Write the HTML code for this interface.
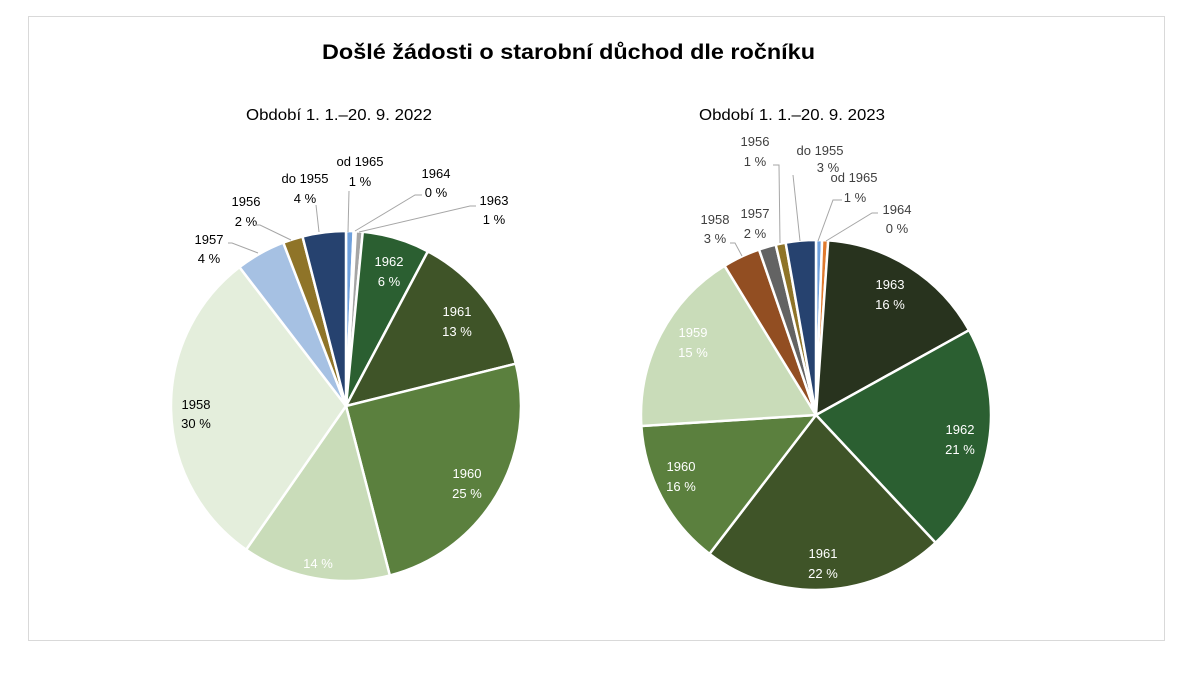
<!DOCTYPE html>
<html><head><meta charset="utf-8"><style>
body{margin:0;background:#fff;width:1190px;height:668px;overflow:hidden;font-family:"Liberation Sans",sans-serif}
</style></head><body>
<svg id="s" width="1190" height="668" xmlns="http://www.w3.org/2000/svg" font-family="Liberation Sans, sans-serif">
<rect x="28.5" y="16.5" width="1136" height="624" fill="#fff" stroke="#d9d9d9"/>
<text x="322" y="59" font-size="21" font-weight="bold" fill="#000" textLength="493" lengthAdjust="spacingAndGlyphs">Došlé žádosti o starobní důchod dle ročníku</text>
<text x="246" y="120" font-size="16" fill="#000" textLength="186" lengthAdjust="spacingAndGlyphs">Období 1. 1.–20. 9. 2022</text>
<text x="699" y="120" font-size="16" fill="#000" textLength="186" lengthAdjust="spacingAndGlyphs">Období 1. 1.–20. 9. 2023</text>
<g id="p1"></g><g id="p2"></g>
<g font-size="13" text-anchor="middle" fill="#000">
<text x="360" y="166">od 1965</text><text x="360" y="186">1 %</text>
<text x="436" y="178">1964</text><text x="436" y="197">0 %</text>
<text x="494" y="205">1963</text><text x="494" y="224">1 %</text>
<text x="305" y="183">do 1955</text><text x="305" y="203">4 %</text>
<text x="246" y="206">1956</text><text x="246" y="226">2 %</text>
<text x="209" y="244">1957</text><text x="209" y="263">4 %</text>
<text x="196" y="409">1958</text><text x="196" y="428">30 %</text>
<g fill="#fff"><text x="389" y="266">1962</text><text x="389" y="286">6 %</text>
<text x="457" y="316">1961</text><text x="457" y="336">13 %</text>
<text x="467" y="478">1960</text><text x="467" y="498">25 %</text>
<text x="318" y="568">14 %</text></g>
</g>
<g font-size="13" text-anchor="middle" fill="#404040">
<text x="755" y="146">1956</text><text x="755" y="166">1 %</text>
<text x="820" y="155">do 1955</text><text x="828" y="172">3 %</text>
<text x="854" y="182">od 1965</text><text x="855" y="202">1 %</text>
<text x="897" y="214">1964</text><text x="897" y="233">0 %</text>
<text x="715" y="224">1958</text><text x="715" y="243">3 %</text>
<text x="755" y="218">1957</text><text x="755" y="238">2 %</text>
<text x="693" y="337" fill="#fff">1959</text><text x="693" y="357" fill="#fff">15 %</text>
<g fill="#fff"><text x="890" y="289">1963</text><text x="890" y="309">16 %</text>
<text x="960" y="434">1962</text><text x="960" y="454">21 %</text>
<text x="823" y="558">1961</text><text x="823" y="578">22 %</text>
<text x="681" y="471">1960</text><text x="681" y="491">16 %</text></g>
</g>
<g stroke="#a6a6a6" fill="none" stroke-width="1">
<polyline points="348,232 349,191"/><polyline points="355,231 415,195 422,195"/><polyline points="359,232 470,206 476,206"/>
<polyline points="319,232 316,205"/><polyline points="291,240 260,225 255,225"/><polyline points="258,253 232,243 228,243"/>
<polyline points="780,243 779,165 773,165"/><polyline points="800,241 793,175"/><polyline points="818,241 833,200 842,200"/>
<polyline points="826,241 872,213 878,213"/><polyline points="742,256 735,243 730,243"/>
</g>
</svg>
<script>
function pie(id,cx,cy,r,sl){var g=document.getElementById(id),h='';
sl.forEach(function(s){var a0=(s[0]-90)*Math.PI/180,a1=(s[1]-90)*Math.PI/180;
var x0=cx+r*Math.cos(a0),y0=cy+r*Math.sin(a0),x1=cx+r*Math.cos(a1),y1=cy+r*Math.sin(a1);
var l=(s[1]-s[0])>180?1:0;
h+='<path d="M'+cx+','+cy+'L'+x0+','+y0+'A'+r+','+r+' 0 '+l+' 1 '+x1+','+y1+'Z" fill="'+s[2]+'" stroke="#fff" stroke-width="2.5" stroke-linejoin="round"/>';});
g.innerHTML=h;}
pie('p1',346,406,175,[[0,2.5,'#6fa0dc'],[2.5,3.2,'#e07a2e'],[3.2,5.5,'#a5a5a5'],[5.5,27.9,'#2b5f31'],[27.9,76,'#3f5428'],[76,165.5,'#5b803e'],[165.5,214.8,'#c9dcb9'],[214.8,322.5,'#e4eedc'],[322.5,339,'#a6c1e3'],[339,345.6,'#8f7428'],[345.6,360,'#26426f']]);
pie('p2',816,415,175,[[0,2,'#6fa0dc'],[2,4,'#e07a2e'],[4,61,'#28331e'],[61,136.9,'#2b5f31'],[136.9,217.5,'#3f5428'],[217.5,266.4,'#5b803e'],[266.4,328.5,'#c9dcb9'],[328.5,341,'#924e22'],[341,346.7,'#636363'],[346.7,350,'#8f7428'],[350,360,'#26426f']]);
</script>
</body></html>
